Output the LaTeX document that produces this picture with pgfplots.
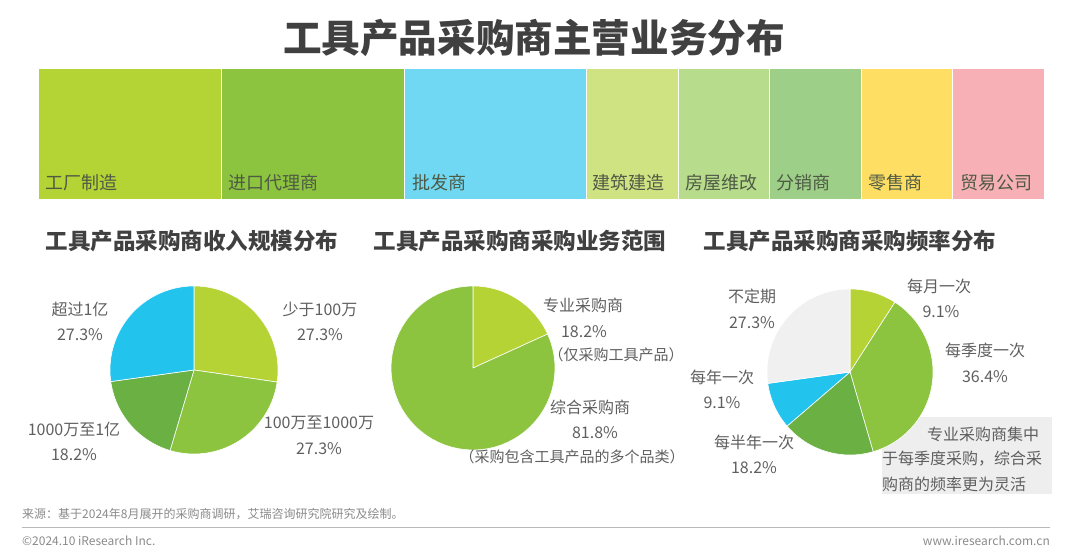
\documentclass[border=0pt]{standalone}
\usepackage{pgfplots}
\pgfplotsset{compat=1.18}
\usepackage{fontspec}
\setmainfont{Noto Sans CJK SC}

\definecolor{titlec}{HTML}{404040}
\definecolor{labc}{HTML}{5F5F5F}
\definecolor{barlab}{HTML}{4F5A45}
\definecolor{cA}{HTML}{B4D334}
\definecolor{cB}{HTML}{8CC43F}
\definecolor{cC}{HTML}{70D8F2}
\definecolor{cD}{HTML}{CFE383}
\definecolor{cE}{HTML}{B7DC8B}
\definecolor{cF}{HTML}{9DCF88}
\definecolor{cG}{HTML}{FEDF63}
\definecolor{cH}{HTML}{F7B0B5}
\definecolor{pA}{HTML}{B5D334}
\definecolor{pB}{HTML}{8DC43F}
\definecolor{pC}{HTML}{6AB043}
\definecolor{pD}{HTML}{22C4EE}
\definecolor{pE}{HTML}{F0F0F0}
\definecolor{notebg}{HTML}{EEEEEE}
\definecolor{footc}{HTML}{8A8A8A}

\newcommand\fs[1]{\fontsize{#1bp}{#1bp}\selectfont}
% pie slice: start (percent), share (percent), colour; clockwise from 12 o'clock
\newcommand\slice[3]{%
  \addplot[fill=#3, draw=white, line width=0.6pt, domain={90-3.6*(#1+#2)}:{90-3.6*(#1)},
    samples=60, variable=\t] ({cos(\t)},{sin(\t)}) -- (0,0) -- cycle;}
% label placed in picture pixels (y measured from the top)
\newcommand\lbl[4][16]{\node[font=\fs{#1}, text=labc, inner sep=0pt] at (#2,{554-#3}) {#4};}
\newcommand\barlbl[2]{\node[anchor=west, font=\fs{18}, text=barlab, inner sep=0pt] at (#1,{554-183}) {#2};}

\pgfplotsset{pie/.style={anchor=center, scale only axis, hide axis,
  xmin=-1, xmax=1, ymin=-1, ymax=1}}

\begin{document}
\begin{tikzpicture}[x=1bp,y=1bp]
\useasboundingbox (0,0) rectangle (1080,554);

\node[font=\fs{38.6}\bfseries, text=titlec] at (534,{554-38}) {工具产品采购商主营业务分布};

% main business distribution
\begin{axis}[at={(38bp,355bp)}, anchor=south west, width=1006bp, height=131bp,
  scale only axis, hide axis, xbar stacked, bar width=131bp,
  xmin=0, xmax=100.1, ymin=0, ymax=1]
\addplot[fill=cA, draw=white, line width=0.5pt] coordinates {(18.2,0.5)};
\addplot[fill=cB, draw=white, line width=0.5pt] coordinates {(18.2,0.5)};
\addplot[fill=cC, draw=white, line width=0.5pt] coordinates {(18.2,0.5)};
\addplot[fill=cD, draw=white, line width=0.5pt] coordinates {(9.1,0.5)};
\addplot[fill=cE, draw=white, line width=0.5pt] coordinates {(9.1,0.5)};
\addplot[fill=cF, draw=white, line width=0.5pt] coordinates {(9.1,0.5)};
\addplot[fill=cG, draw=white, line width=0.5pt] coordinates {(9.1,0.5)};
\addplot[fill=cH, draw=white, line width=0.5pt] coordinates {(9.1,0.5)};
\end{axis}
\barlbl{45}{工厂制造}
\barlbl{228}{进口代理商}
\barlbl{412}{批发商}
\barlbl{592}{建筑建造}
\barlbl{685}{房屋维改}
\barlbl{776}{分销商}
\barlbl{868}{零售商}
\barlbl{960}{贸易公司}

% sub titles
\node[font=\fs{22.5}\bfseries, text=titlec] at (192,{554-241}) {工具产品采购商收入规模分布};
\node[font=\fs{22.5}\bfseries, text=titlec] at (520,{554-241}) {工具产品采购商采购业务范围};
\node[font=\fs{22.5}\bfseries, text=titlec] at (850,{554-241}) {工具产品采购商采购频率分布};

% pie 1: revenue
\begin{axis}[pie, at={(194bp,184bp)}, width=168bp, height=168bp]
\slice{0}{27.3}{pA}
\slice{27.3}{27.3}{pB}
\slice{54.6}{18.2}{pC}
\slice{72.8}{27.2}{pD}
\end{axis}
\lbl{80}{309}{超过1亿}
\lbl{80}{335}{27.3\%}
\lbl{320}{309}{少于100万}
\lbl{320}{335}{27.3\%}
\lbl{74}{429}{1000万至1亿}
\lbl{74}{455}{18.2\%}
\lbl{319}{423}{100万至1000万}
\lbl{319}{449}{27.3\%}

% pie 2: scope of purchasing
\begin{axis}[pie, at={(473bp,186bp)}, width=164bp, height=164bp]
\slice{0}{18.2}{pA}
\slice{18.2}{81.8}{pB}
\end{axis}
\lbl{583}{305}{专业采购商}
\lbl{584}{332}{18.2\%}
\lbl[15]{616}{355}{（仅采购工具产品）}
\lbl{590}{407}{综合采购商}
\lbl{595}{433}{81.8\%}
\lbl[15]{572}{457}{（采购包含工具产品的多个品类）}

% note box (behind pie 3)
\fill[notebg] (882,{554-417}) rectangle (1052,{554-494});
\lbl{983}{434}{专业采购商集中}
\lbl{962}{459}{于每季度采购，综合采}
\lbl{954}{484}{购商的频率更为灵活}

% pie 3: frequency
\begin{axis}[pie, at={(850bp,182bp)}, width=166bp, height=166bp]
\slice{0}{9.1}{pA}
\slice{9.1}{36.4}{pB}
\slice{45.5}{18.2}{pC}
\slice{63.7}{9.1}{pD}
\slice{72.8}{27.2}{pE}
\end{axis}
\lbl{939}{286}{每月一次}
\lbl{941}{312}{9.1\%}
\lbl{985}{350}{每季度一次}
\lbl{985}{377}{36.4\%}
\lbl{752}{296}{不定期}
\lbl{752}{323}{27.3\%}
\lbl{722}{377}{每年一次}
\lbl{722}{403}{9.1\%}
\lbl{754}{442}{每半年一次}
\lbl{754}{468}{18.2\%}

% footer
\node[anchor=west, font=\fs{12}, text=footc, inner sep=0pt] at (22,{554-514})
  {来源：基于2024年8月展开的采购商调研，艾瑞咨询研究院研究及绘制。};
\draw[footc!60, line width=0.8pt] (22,{554-527}) -- (1050,{554-527});
\node[anchor=west, font=\fs{12}, text=footc, inner sep=0pt] at (22,{554-541}) {©2024.10 iResearch Inc.};
\node[anchor=east, font=\fs{12}, text=footc, inner sep=0pt] at (1050,{554-541}) {www.iresearch.com.cn};
\end{tikzpicture}
\end{document}
